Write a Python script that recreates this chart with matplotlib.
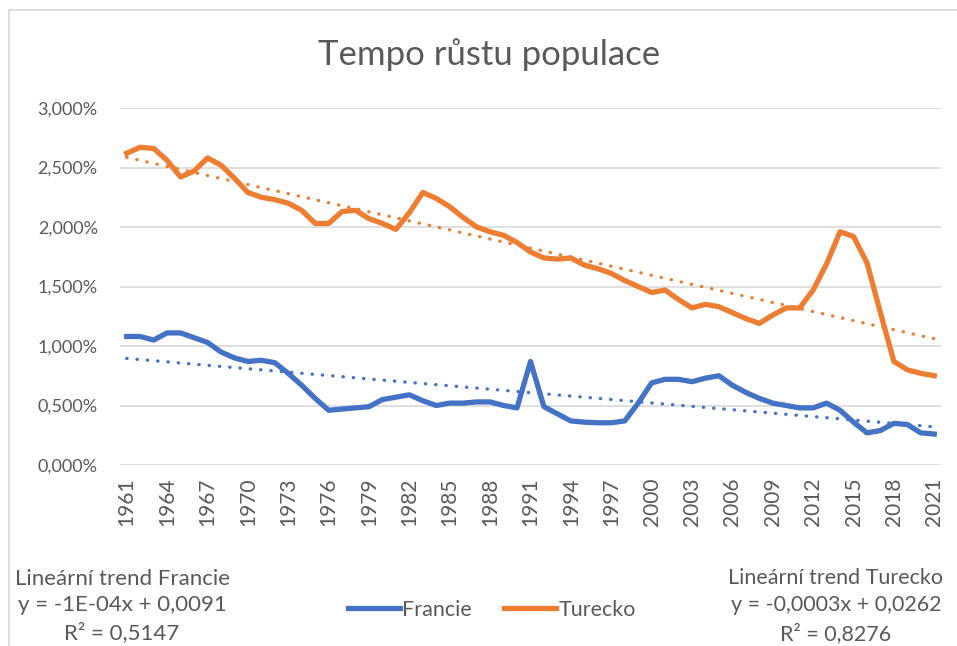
import numpy as np
import matplotlib
matplotlib.use('Agg')
import matplotlib.pyplot as plt
from matplotlib.ticker import FuncFormatter, MultipleLocator
from matplotlib.lines import Line2D

plt.rcParams['font.family'] = ['Lato', 'DejaVu Sans']

# population growth rate, % per year
years = list(range(1961, 2022))
francie = [1.08, 1.08, 1.05, 1.11, 1.11, 1.07, 1.03, 0.95, 0.90, 0.87,
           0.88, 0.86, 0.77, 0.67, 0.56, 0.46, 0.47, 0.48, 0.49, 0.55,
           0.57, 0.59, 0.54, 0.50, 0.52, 0.52, 0.53, 0.53, 0.50, 0.48,
           0.87, 0.49, 0.43, 0.37, 0.36, 0.355, 0.355, 0.37, 0.52, 0.69,
           0.72, 0.72, 0.70, 0.73, 0.75, 0.67, 0.61, 0.56, 0.52, 0.50,
           0.48, 0.48, 0.52, 0.46, 0.36, 0.27, 0.29, 0.35, 0.34, 0.27,
           0.26]
turecko = [2.62, 2.67, 2.66, 2.56, 2.42, 2.47, 2.58, 2.52, 2.41, 2.29,
           2.25, 2.23, 2.20, 2.14, 2.03, 2.03, 2.13, 2.14, 2.07, 2.03,
           1.98, 2.12, 2.29, 2.24, 2.17, 2.08, 2.00, 1.96, 1.93, 1.87,
           1.79, 1.74, 1.73, 1.74, 1.68, 1.65, 1.61, 1.55, 1.50, 1.45,
           1.47, 1.39, 1.32, 1.35, 1.33, 1.28, 1.23, 1.19, 1.26, 1.32,
           1.32, 1.47, 1.69, 1.96, 1.92, 1.70, 1.28, 0.87, 0.80, 0.77,
           0.75]
series_names = ['Francie', 'Turecko']
trend_text_fr = 'Lineární trend Francie\ny = -1E-04x + 0,0091\nR² = 0,5147'
trend_text_tr = 'Lineární trend Turecko\ny = -0,0003x + 0,0262\nR² = 0,8276'

blue = '#4472C4'
orange = '#ED7D31'
grey_txt = '#595959'

fig = plt.figure(figsize=(9.57, 6.46), dpi=100)
ax = fig.add_axes([120/957, 1 - 465/646, (941 - 120)/957, (465 - 108)/646])

x = np.array(years)
idx = np.arange(1, len(years) + 1)
for vals, color, name in [(francie, blue, series_names[0]), (turecko, orange, series_names[1])]:
    ax.plot(x, vals, color=color, lw=3.8, solid_joinstyle='round', zorder=3, label=name)
    # linear trend, fitted the Excel way (index 1..n)
    k, q = np.polyfit(idx, np.array(vals), 1)
    ax.plot(x, k*idx + q, color=color, lw=2.4, linestyle=(0, (0.1, 3.0)),
            dash_capstyle='round', zorder=2)

ax.set_xlim(1960.5, 2021.5)
ax.set_ylim(0, 3)
ax.yaxis.set_major_locator(MultipleLocator(0.5))
ax.yaxis.set_major_formatter(FuncFormatter(lambda v, p: f'{v:.3f}'.replace('.', ',') + '%'))
ax.set_xticks(years[::3])
ax.set_xticklabels([str(y) for y in years[::3]], rotation=90)
ax.grid(axis='y', color='#D9D9D9', lw=1.2)
ax.set_axisbelow(True)
for s in ax.spines.values():
    s.set_visible(False)
ax.tick_params(axis='y', length=0, pad=16, labelsize=13, labelcolor=grey_txt)
ax.tick_params(axis='x', length=0, pad=9, labelsize=15, labelcolor=grey_txt)

fig.text(489/957, 1 - 55/646, 'Tempo růstu populace', ha='center', va='center',
         fontsize=25, color=grey_txt)

handles = [Line2D([], [], color=blue, lw=3.8), Line2D([], [], color=orange, lw=3.8)]
fig.legend(handles, series_names, loc='center', bbox_to_anchor=(492/957, 1 - 610/646),
           ncol=2, frameon=False, fontsize=15.5, labelcolor=grey_txt,
           handlelength=2.4, handletextpad=0.1, columnspacing=1.5)

fig.text(122/957, 1 - 606/646, trend_text_fr, ha='center', va='center', fontsize=16,
         color=grey_txt, linespacing=1.42)
fig.text(836/957, 1 - 606/646, trend_text_tr, ha='center', va='center', fontsize=15.5,
         color=grey_txt, linespacing=1.47)

# chart area border (only top and left edges fall inside the crop)
fig.add_artist(Line2D([9/957, 1], [1 - 10/646, 1 - 10/646], color='#D9D9D9', lw=1.2))
fig.add_artist(Line2D([9/957, 9/957], [0, 1 - 10/646], color='#D9D9D9', lw=1.2))

fig.savefig('out.png', dpi=100)
